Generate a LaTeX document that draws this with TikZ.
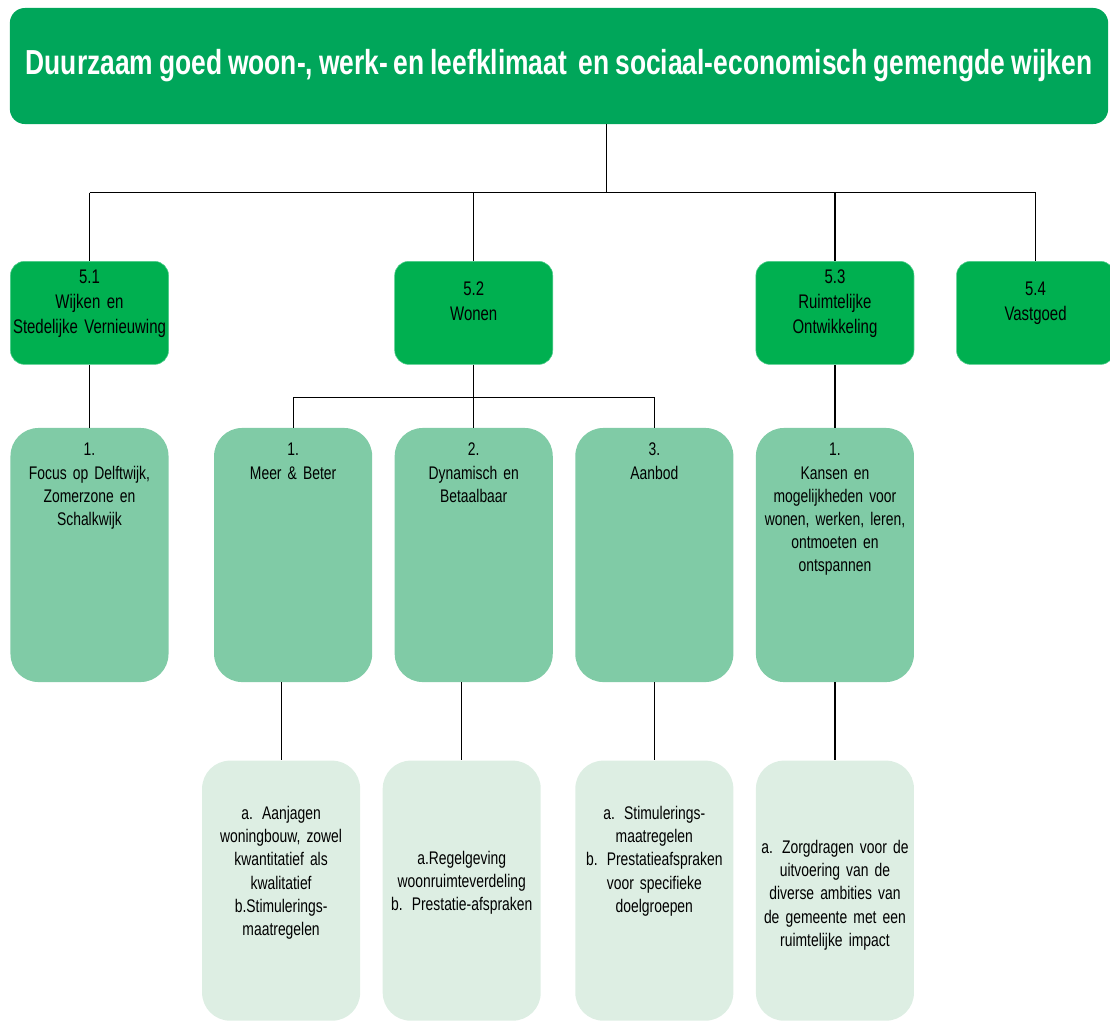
\documentclass[tikz,border=0pt]{standalone}
\usepackage{fontspec}
\setmainfont{Liberation Sans}[FakeStretch=0.76, WordSpace=0.8]
\usetikzlibrary{positioning}
\definecolor{goalgreen}{RGB}{0,166,90}
\definecolor{themegreen}{RGB}{0,176,80}
\definecolor{themeline}{RGB}{80,205,140}
\definecolor{aimgreen}{RGB}{128,203,166}
\definecolor{actgreen}{RGB}{221,238,227}
\def \boxwidth {3.95cm}
\def \textw {3.85cm}
\tikzset{
  fix/.style 2 args = {text height = #1, text depth = #2},
  theme/.style = {fill = themegreen, draw = themeline, rounded corners = 0.35cm, minimum width = \boxwidth, text width = \textw, align = center, inner sep = 0pt, font = \fontsize{14}{17.8}\selectfont},
  aim/.style = {fill = aimgreen, rounded corners = 0.7cm, minimum width = \boxwidth, text width = \textw, align = center, inner sep = 0pt, font = \fontsize{13}{16.4}\selectfont, fix = {0.7cm}{5.65cm}},
  act/.style = {fill = actgreen, rounded corners = 0.7cm, minimum width = \boxwidth, text width = \textw, align = center, inner sep = 0pt, font = \fontsize{13}{16.4}\selectfont},
  link/.style = {line width = 0.8pt}
}

\begin{document}
\begin{tikzpicture}[x = 0.025cm, y = -0.025cm]
\useasboundingbox (0,0) rectangle (1110,1021);

\node (top) [fill = goalgreen, rounded corners = 0.375cm, minimum width = 27.45cm, minimum height = 2.9cm, text = white, font = \fontsize{24.7}{30}\selectfont\bfseries] at (559,66) {Duurzaam goed woon-, werk- en leefklimaat\ \ en sociaal-economisch gemengde wijken};

% second row
\node (f51) [aim] at (89.5,555) {1.\\Focus op Delftwijk,\\Zomerzone en\\Schalkwijk};
\node (f521) [aim, right = 1.125cm of f51] {1.\\Meer \& Beter};
\node (f522) [aim, right = 0.55cm of f521] {2.\\Dynamisch en\\Betaalbaar};
\node (f523) [aim, right = 0.55cm of f522] {3.\\Aanbod};
\node (f53) [aim, right = 0.55cm of f523] {1.\\Kansen en\\mogelijkheden voor\\wonen, werken, leren,\\ontmoeten en\\ontspannen};

\node (s51) [theme, fix = {0.55cm}{2.025cm}, above = 1.575cm of f51] {5.1\\Wijken en\\Stedelijke Vernieuwing};
\node (s52) [theme, fix = {0.85cm}{1.725cm}, above = 1.575cm of f522] {5.2\\Wonen};
\node (s53) [theme, fix = {0.55cm}{2.025cm}, above = 1.575cm of f53] {5.3\\Ruimtelijke\\Ontwikkeling};
\node (s54) [theme, fix = {0.85cm}{1.725cm}, right = 1.05cm of s53] {5.4\\Vastgoed};

% third row
\node (a521) [act, fix = {1.48cm}{5.02cm}, below = 1.95cm of f521, xshift = -0.3cm] {a. Aanjagen\\woningbouw, zowel\\kwantitatief als\\kwalitatief\\b.Stimulerings-\\maatregelen};
\node (a522) [act, fix = {2.6cm}{3.9cm}, below = 1.95cm of f522, xshift = -0.3cm] {a.Regelgeving\\woonruimteverdeling\\b. Prestatie-afspraken};
\node (a523) [act, fix = {1.48cm}{5.02cm}, below = 1.95cm of f523] {a. Stimulerings-\\maatregelen\\b. Prestatieafspraken\\voor specifieke\\doelgroepen};
\node (a53) [act, fix = {2.33cm}{4.17cm}, below = 1.95cm of f53] {a. Zorgdragen voor de\\uitvoering van de\\diverse ambities van\\de gemeente met een\\ruimtelijke impact};

\coordinate (trunk) at (606.5,192.5);
\draw[link] (top.south -| trunk) -- (trunk);
\draw[link] (trunk -| s51) -- (trunk -| s54);
\foreach \n in {s51, s52, s53, s54}
  \draw[link] (trunk -| \n) -- (\n.north);

\draw[link] (s51.south) -- (f51.north);
\path (s52.south) ++(0,32.5) coordinate (fork);
\draw[link] (s52.south) -- (fork);
\draw[link] (fork -| f521) -- (fork -| f523);
\foreach \n in {f521, f522, f523}
  \draw[link] (fork -| \n) -- (\n.north);
\draw[link] (s53.south) -- (f53.north);

\foreach \n/\m in {f521/a521, f522/a522, f523/a523, f53/a53}
  \draw[link] (\m.north |- \n.south) -- (\m.north);

\end{tikzpicture}
\end{document}
